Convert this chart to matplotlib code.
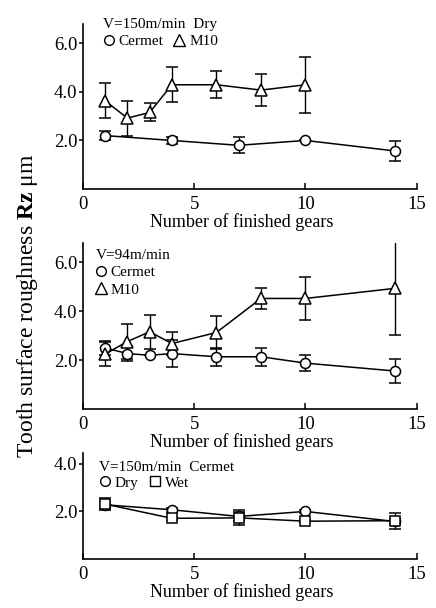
import numpy as np
import matplotlib
matplotlib.use('Agg')
import matplotlib.pyplot as plt
from matplotlib.lines import Line2D

plt.rcParams['font.family'] = ['Liberation Serif', 'DejaVu Serif']
plt.rcParams['mathtext.fontset'] = 'custom'
plt.rcParams['mathtext.rm'] = 'Liberation Serif'
plt.rcParams['mathtext.bf'] = 'Liberation Serif:bold'

# panel 1 : V=150m/min Dry
p1_cermet_x = [1, 4, 7, 10, 14]
p1_cermet_y = [2.2, 2.0, 1.8, 2.0, 1.57]
p1_cermet_e = [0.2, 0.14, 0.33, 0.0, 0.4]
p1_m10_x = [1, 2, 3, 4, 6, 8, 10]
p1_m10_y = [3.63, 2.92, 3.15, 4.29, 4.29, 4.07, 4.29]
p1_m10_e = [0.72, 0.72, 0.37, 0.72, 0.56, 0.66, 1.15]

# panel 2 : V=94m/min
p2_cermet_x = [1, 2, 3, 4, 6, 8, 10, 14]
p2_cermet_y = [2.5, 2.27, 2.2, 2.27, 2.14, 2.14, 1.88, 1.56]
p2_cermet_e = [0.3, 0.3, 0.0, 0.55, 0.37, 0.37, 0.34, 0.5]
p2_m10_x = [1, 2, 3, 4, 6, 8, 10, 14]
p2_m10_y = [2.25, 2.76, 3.16, 2.68, 3.13, 4.52, 4.52, 4.93]
p2_m10_e = [0.5, 0.7, 0.7, 0.47, 0.66, 0.44, 0.88, 1.9]

# panel 3 : V=150m/min Cermet
p3_x = [1, 4, 7, 10, 14]
p3_dry_y = [2.27, 2.06, 1.78, 1.99, 1.57]
p3_dry_e = [0.15, 0.08, 0.2, 0.05, 0.1]
p3_wet_y = [2.3, 1.7, 1.72, 1.58, 1.6]
p3_wet_e = [0.25, 0.05, 0.32, 0.05, 0.33]

xticks = [0, 5, 10, 15]

fig = plt.figure(figsize=(4.36, 6.08), dpi=100)
ax1 = fig.add_axes([0.190, 0.689, 0.766, 0.272])
ax2 = fig.add_axes([0.190, 0.327, 0.766, 0.274])
ax3 = fig.add_axes([0.190, 0.081, 0.766, 0.174])

def series(ax, x, y, e, marker, ms=7.2):
    ax.errorbar(x, y, yerr=e, color='black', lw=1.1, elinewidth=1.0,
                capsize=4.2, capthick=1.0, marker=marker, ms=ms,
                mfc='white', mec='black', mew=1.1)

def style(ax, ymax, yticks):
    ax.set_xlim(0, 15)
    ax.set_ylim(0, ymax)
    ax.set_xticks(xticks)
    ax.set_yticks(yticks)
    ax.set_yticklabels(['%.1f' % v for v in yticks])
    ax.spines['top'].set_visible(False)
    ax.spines['right'].set_visible(False)
    for s in ['left', 'bottom']:
        ax.spines[s].set_linewidth(1.2)
    ax.tick_params(axis='x', direction='in', length=4, width=1.1, labelsize=13.5, pad=5)
    ax.tick_params(axis='y', direction='out', length=3, width=1.1, labelsize=13.5, pad=1)
    ax.set_xlabel('Number of finished gears', fontsize=13, labelpad=0)
    ax.xaxis.label.set_x(0.475)

def handle(marker, ms=7):
    return Line2D([], [], ls='none', marker=marker, ms=ms, mfc='white', mec='black', mew=1.0)

leg_kw = dict(loc='upper left', frameon=False, fontsize=11, title_fontsize=11,
              alignment='left', handlelength=0.7, handletextpad=0.3,
              columnspacing=0.7, borderpad=0)

series(ax1, p1_cermet_x, p1_cermet_y, p1_cermet_e, 'o')
series(ax1, p1_m10_x, p1_m10_y, p1_m10_e, '^', 8.5)
style(ax1, 6.8, [2.0, 4.0, 6.0])
ax1.legend([handle('o'), handle('^', 8)], ['Cermet', 'M10'], ncol=2,
           title='V=150m/min  Dry', bbox_to_anchor=(0.038, 1.08),
           labelspacing=0.2, **leg_kw)

series(ax2, p2_cermet_x, p2_cermet_y, p2_cermet_e, 'o')
series(ax2, p2_m10_x, p2_m10_y, p2_m10_e, '^', 8.5)
style(ax2, 6.8, [2.0, 4.0, 6.0])
ax2.legend([handle('o'), handle('^', 8)], ['Cermet', 'M10'], ncol=1,
           title='V=94m/min', bbox_to_anchor=(0.015, 1.01),
           labelspacing=0.25, **leg_kw)

series(ax3, p3_x, p3_dry_y, p3_dry_e, 'o')
series(ax3, p3_x, p3_wet_y, p3_wet_e, 's')
style(ax3, 4.45, [2.0, 4.0])
ax3.legend([handle('o'), handle('s')], ['Dry', 'Wet'], ncol=2,
           title='V=150m/min  Cermet', bbox_to_anchor=(0.027, 1.0),
           labelspacing=0.15, **leg_kw)

fig.text(0.063, 0.497, r'Tooth surface roughness $\mathbf{Rz}$ μm', rotation=90,
         ha='center', va='center', fontsize=17)

fig.savefig('out.png', dpi=100)
